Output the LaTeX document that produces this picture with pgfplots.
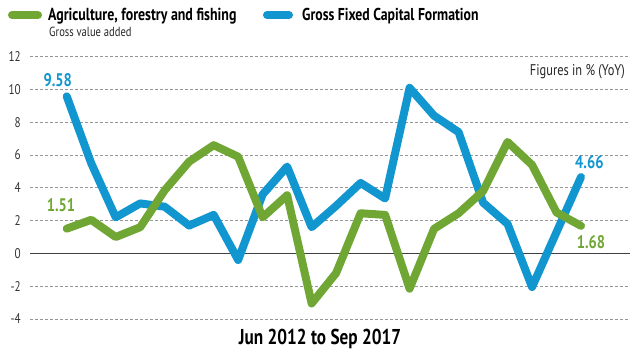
\documentclass[border=0pt]{standalone}
\usepackage{fontspec}
\setmainfont{PT Sans}[FakeStretch=0.8]
\usepackage{pgfplots}
\usepackage{pgfplotstable}
\pgfplotsset{compat=1.18}
\definecolor{agri}{RGB}{112,167,52}
\definecolor{gfcf}{RGB}{18,150,207}
\definecolor{gridc}{RGB}{150,150,150}
\pgfplotstableread{
q agri gfcf
0 1.51 9.58
1 2.05 5.5
2 1.0 2.2
3 1.6 3.05
4 3.85 2.85
5 5.6 1.7
6 6.6 2.35
7 5.9 -0.4
8 2.2 3.6
9 3.55 5.3
10 -3.05 1.6
11 -1.2 2.9
12 2.45 4.3
13 2.35 3.35
14 -2.15 10.1
15 1.5 8.4
16 2.45 7.4
17 3.8 3.1
18 6.8 1.8
19 5.4 -2.05
20 2.5 1.3
21 1.68 4.66
}\data
\begin{document}
\begin{tikzpicture}[x=1pt,y=1pt]
\path[use as bounding box] (0,0) rectangle (640,353);
\begin{axis}[
  at={(30pt,34pt)}, anchor=south west,
  scale only axis, width=600pt, height=262.3pt,
  xmin=-1.5, xmax=23, ymin=-4, ymax=12,
  ytick={-4,-2,2,4,6,8,10,12},
  extra y ticks={0},
  extra y tick style={grid=major, major grid style={solid, black!75, line width=0.9pt}},
  xtick=\empty,
  ymajorgrids,
  major grid style={gridc, dash pattern=on 3pt off 2pt, line width=0.7pt},
  axis line style={draw=none},
  major tick length=0pt,
  yticklabel style={font=\fontsize{14}{14}\selectfont, text=black!80, anchor=east, inner sep=0pt, xshift=-9pt},
  /pgf/number format/assume math mode=true,
  clip=false,
]
\addplot[gfcf, line width=8pt, line cap=round, line join=round] table[x=q,y=gfcf]{\data};
\addplot[agri, line width=8pt, line cap=round, line join=round] table[x=q,y=agri]{\data};
\end{axis}
% legend
\draw[agri, line width=8pt, line cap=round] (12,338) -- (38,338);
\node[anchor=base west, inner sep=0pt, font=\fontsize{17.4}{17.4}\selectfont\bfseries] at (48,332.3) {Agriculture, forestry and fishing};
\draw[gfcf, line width=8pt, line cap=round] (267,338) -- (289,338);
\node[anchor=base west, inner sep=0pt, font=\fontsize{17.2}{17.2}\selectfont\bfseries] at (302,332.3) {Gross Fixed Capital Formation};
\node[anchor=base west, inner sep=0pt, font=\fontsize{13.2}{13.2}\selectfont, text=black!85] at (49,316.3) {Gross value added};
\node[anchor=base east, inner sep=0pt, font=\fontsize{15.5}{15.5}\selectfont, text=black!85] at (625,277) {Figures in \% (YoY)};
\node[anchor=base, inner sep=0pt, font=\fontsize{21.5}{21.5}\selectfont\bfseries] at (320,8) {Jun 2012 to Sep 2017};
% value labels
\node[anchor=base west, inner sep=0pt, text=gfcf, font=\fontsize{18.2}{18.2}\selectfont\bfseries] at (43.3,266.3) {9.58};
\node[anchor=base west, inner sep=0pt, text=agri, font=\fontsize{18.2}{18.2}\selectfont\bfseries] at (46.7,141.3) {1.51};
\node[anchor=base west, inner sep=0pt, text=gfcf, font=\fontsize{18.2}{18.2}\selectfont\bfseries] at (575,184.7) {4.66};
\node[anchor=base west, inner sep=0pt, text=agri, font=\fontsize{18.2}{18.2}\selectfont\bfseries] at (576.7,104) {1.68};
\end{tikzpicture}
\end{document}
